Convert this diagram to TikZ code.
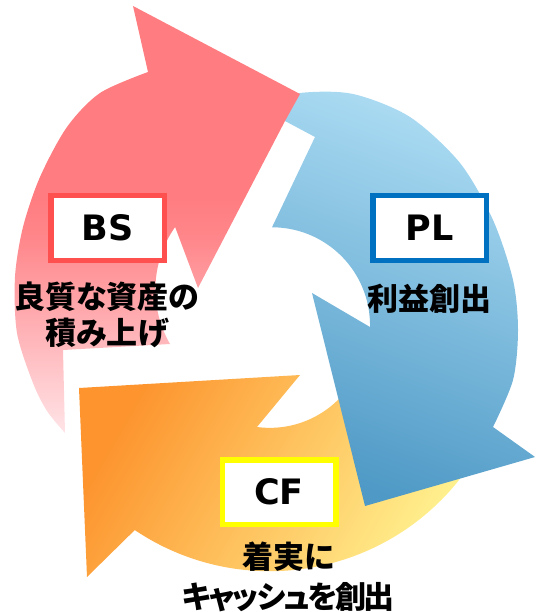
\documentclass[tikz,border=0pt]{standalone}
\usepackage{fontspec}
\setmainfont{DejaVu Sans}
\newfontfamily\jpfont{Noto Sans CJK JP}[RawFeature=+palt]
\definecolor{redtop}{RGB}{255,124,128}
\definecolor{redmidb}{RGB}{255,134,138}
\definecolor{redmida}{RGB}{255,182,186}
\definecolor{redlight}{RGB}{255,228,231}
\definecolor{bluelight}{RGB}{172,220,243}
\definecolor{bluedark}{RGB}{78,153,198}
\definecolor{orangedeep}{RGB}{253,148,46}
\definecolor{yellowlight}{RGB}{255,243,145}
\definecolor{bsred}{RGB}{255,80,80}
\definecolor{plblue}{RGB}{0,112,192}
\definecolor{cfyellow}{RGB}{255,255,0}
\pgfdeclareverticalshading{redsh}{100bp}{color(0bp)=(redlight); color(25bp)=(redlight); color(36bp)=(redmida); color(48bp)=(redmidb); color(53bp)=(redtop); color(100bp)=(redtop)}
\tikzset{
  labelbox/.style={draw, fill=white, line width=5.5pt, minimum width=113.5pt, minimum height=64.5pt, inner sep=0pt, font=\bfseries\fontsize{35}{40}\selectfont},
  caption/.style={inner sep=0pt, align=center, font=\jpfont\bfseries\fontsize{31}{36}\selectfont},
  redarrow/.style={shading=redsh},
  bluearrow/.style={top color=bluelight, bottom color=bluedark, shading angle=-20},
  orangearrow/.style={top color=orangedeep, bottom color=yellowlight, shading angle=60},
}
\begin{document}
\begin{tikzpicture}[x=1pt,y=-1pt]
\useasboundingbox (0,0) rectangle (535,612);
% orange arrow (CF)
\shade[orangearrow] (79,388) -- (300,375) -- (257,427)
  arc[start angle=97.6, end angle=25, radius=97] -- (468,468)
  arc[start angle=35, end angle=123.9, radius=242] -- (87,577) -- cycle;
% blue arrow (PL)
\shade[bluearrow] plot[smooth] coordinates {(255,105) (300,93) (353,94) (410,117) (460,163) (493,220) (513,280) (518,330) (513,380) (493,427)}
  -- (535,457) -- (365,506) -- (312,293) -- (370,327)
  arc[start angle=1, end angle=-90, radius=98] -- (315,137) -- cycle;
% red arrow (BS)
\shade[redarrow] (300,94) -- (133,6) -- (148,72)
  -- plot[smooth] coordinates {(148,72) (100,93) (67,127) (40,177) (23,227) (15,277) (17,333) (33,383) (47,411) (65,433)}
  -- (63,350) -- (170,344) arc[start angle=150, end angle=215, radius=109]
  -- (198,288) -- (285,121) -- cycle;
% boxes
\node[labelbox, draw=bsred] (bs) at (107.5,228) {BS};
\node[labelbox, draw=plblue] (pl) at (429.5,228) {PL};
\node[labelbox, draw=cfyellow] (cf) at (279,492) {CF};
% captions
\node[caption] (bstext) at (107,315) {良質な資産の\\積み上げ};
\node[caption] (pltext) at (429.5,299) {利益創出};
\node[caption, font=\jpfont\bfseries\fontsize{31}{40}\selectfont] (cftext) at (288.5,577) {着実に\\{\addfontfeatures{LetterSpace=-7}キャッシュを創出}};
\end{tikzpicture}
\end{document}
